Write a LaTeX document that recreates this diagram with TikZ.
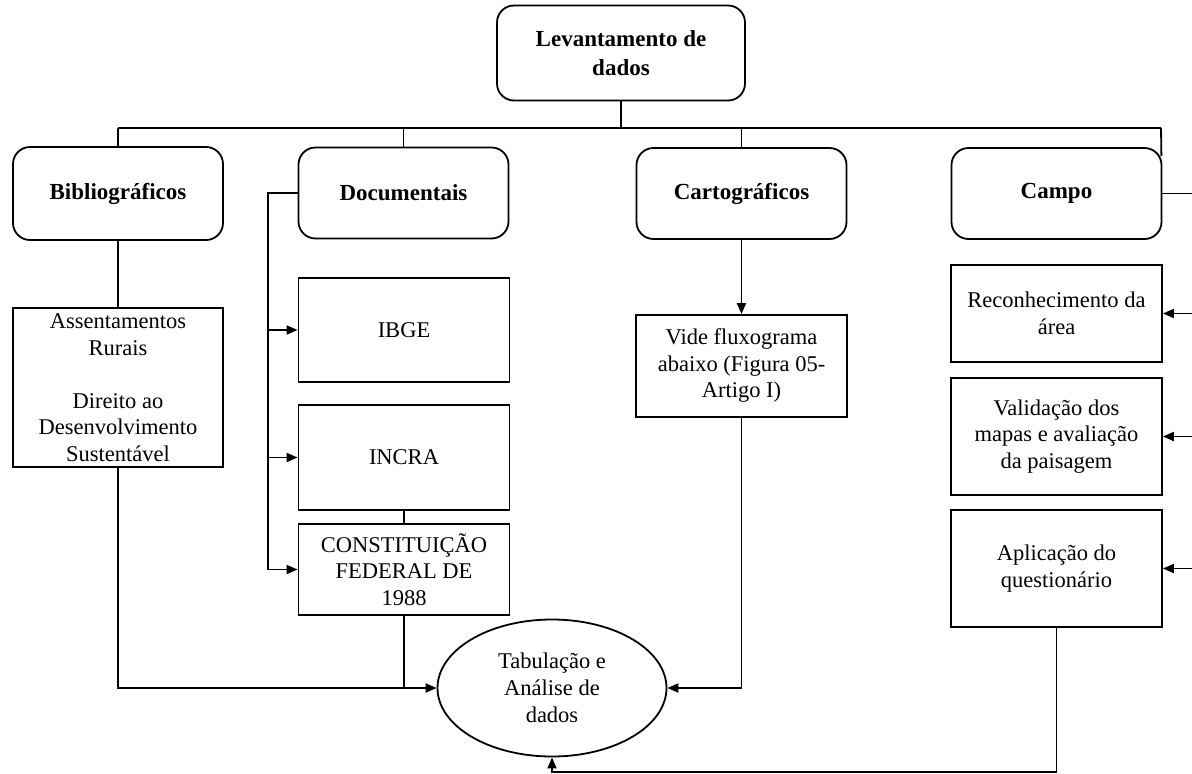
\documentclass[tikz,border=0pt]{standalone}
\usepackage{fontspec}
\setmainfont{Liberation Serif}
\usetikzlibrary{arrows.meta,shapes.geometric,calc}

\tikzset{
  head/.style={draw, rounded corners=17pt, line width=1.8pt, minimum width=210pt,
    minimum height=91pt, align=center, font=\fontsize{23}{29}\selectfont\bfseries},
  item/.style={draw, line width=1.8pt, minimum width=211pt, inner ysep=0pt,
    align=center, font=\fontsize{22.5}{26.5}\selectfont},
  link/.style={line width=1.8pt},
  tip/.style={line width=1.8pt, -{Triangle[length=11pt,width=9pt]}}
}

\begin{document}
\begin{tikzpicture}[x=1pt,y=-1pt]
\useasboundingbox (0,0) rectangle (1192,774);

% headings
\node[head, minimum width=248pt, minimum height=95pt] (lev) at (621,53) {Levantamento de\\dados};
\node[head, minimum height=93pt] (bib) at (118,193.5) {Bibliográficos};
\node[head] (doc) at (403.5,193) {Documentais};
\node[head] (car) at (741.5,193.5) {Cartográficos};
\node[head] (cam) at (1056.5,193.5) {Campo};

% boxes
\node[item, minimum width=210pt, minimum height=159pt] (asr) at (118,387.5)
  {Assentamentos\\Rurais\\~\\Direito ao\\Desenvolvimento\\Sustentável};
\node[item, minimum height=104pt] (ibge) at (404,330) {IBGE};
\node[item, minimum height=105pt] (incra) at (404,457.5) {INCRA};
\node[item, minimum height=91pt] (cf) at (404,569.5) {CONSTITUIÇÃO\\FEDERAL DE\\1988};
\node[item, minimum height=102pt] (vide) at (741.5,366) {Vide fluxograma\\abaixo (Figura 05-\\Artigo I)};
\node[item, minimum height=97pt] (rec) at (1056.5,313.5) {Reconhecimento da\\área};
\node[item, minimum height=117pt] (val) at (1056.5,436.5) {Validação dos\\mapas e avaliação\\da paisagem};
\node[item, minimum height=117pt] (apl) at (1056.5,568.5) {Aplicação do\\questionário};
\node[draw, ellipse, line width=1.8pt, minimum width=229pt, minimum height=137pt, inner sep=0pt,
  align=center, font=\fontsize{22.5}{27}\selectfont] (tab) at (552,688) {Tabulação e\\Análise de\\dados};

% top bus
\coordinate (busL) at (118,128);
\coordinate (busR) at (1161,128);
\draw[link] (busL) -- (busR);
\draw[link] (lev.south) -- (lev.south |- busL);
\draw[link] (bib.north) -- (bib.north |- busL);
\draw[link] (doc.north) -- (doc.north |- busL);
\draw[link] (car.north) -- (car.north |- busL);
\draw[link] (busR) -- ($(cam.north east)+(-1,9)$);

% Bibliograficos
\draw[link] (bib.south) -- (asr.north);
\draw[tip] (asr.south) |- (tab.west);

% Documentais
\coordinate (rail) at (268,0);
\draw[link] (doc.west) -- (doc.west -| rail) -- (rail |- cf.west);
\draw[tip] (rail |- ibge.west) -- (ibge.west);
\draw[tip] (rail |- incra.west) -- (incra.west);
\draw[tip] (rail |- cf.west) -- (cf.west);
\draw[link] (incra.south) -- (cf.north);
\draw[link] (cf.south) -- (cf.south |- tab.west);

% Cartograficos
\draw[tip] (car.south) -- (vide.north);
\draw[tip] (vide.south) |- (tab.east);

% Campo
\coordinate (edge) at (1192,0);
\coordinate (bot) at (0,772);
\draw[link] (cam.east) -- (cam.east -| edge);
\draw[tip] (rec.east -| edge) -- (rec.east);
\draw[tip] (val.east -| edge) -- (val.east);
\draw[tip] (apl.east -| edge) -- (apl.east);
\draw[tip] (apl.south) -- (apl.south |- bot) -| (tab.south);

\end{tikzpicture}
\end{document}
